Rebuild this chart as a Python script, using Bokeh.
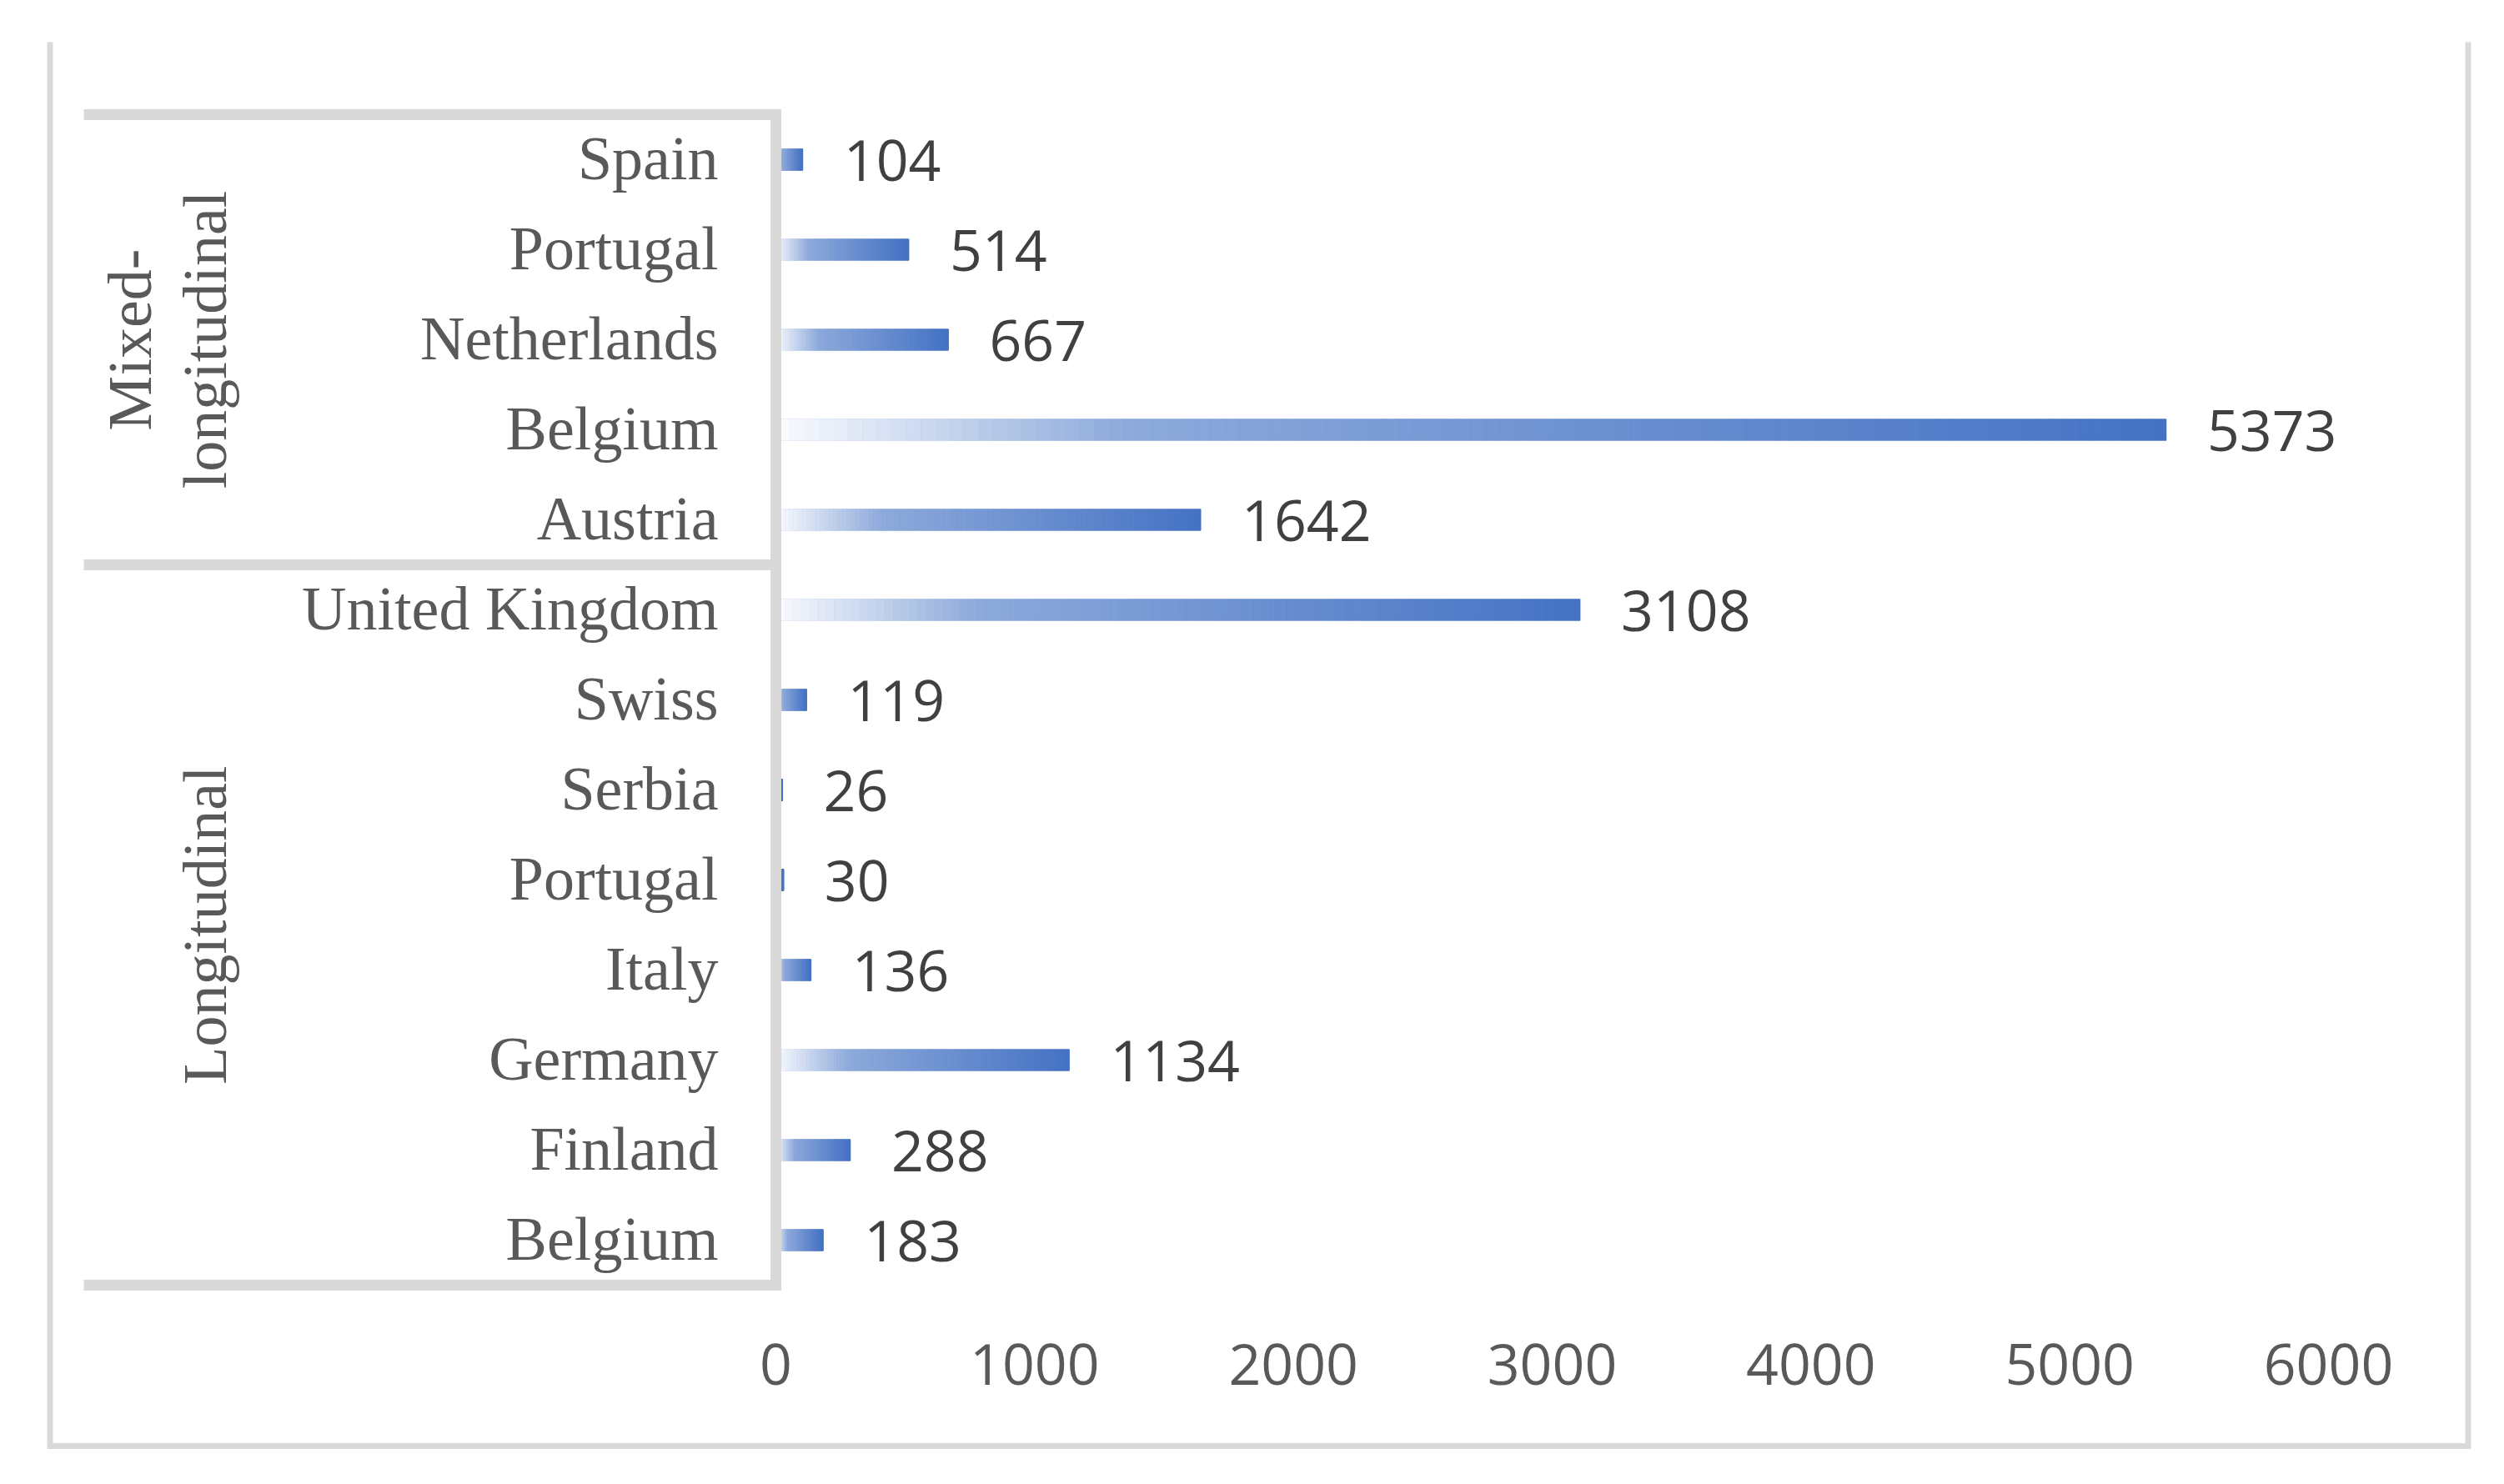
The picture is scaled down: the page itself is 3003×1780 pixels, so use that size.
import math
from bokeh.plotting import figure
from bokeh.models import Range1d, FixedTicker, ColumnDataSource
from bokeh.core.properties import value
from bokeh.embed import file_html
from bokeh.resources import INLINE

# ---------------- data (top to bottom as in the chart) ----------------
countries = ["Spain", "Portugal", "Netherlands", "Belgium", "Austria",
             "United Kingdom", "Swiss", "Serbia", "Portugal", "Italy",
             "Germany", "Finland", "Belgium"]
counts = [104, 514, 667, 5373, 1642, 3108, 119, 26, 30, 136, 1134, 288, 183]
groups = ["Mixed-longitudinal"] * 5 + ["Longitudinal"] * 8
group_names = ["Mixed-longitudinal", "Longitudinal"]
group_label_lines = [["Mixed-", "longitudinal"], ["Longitudinal"]]
x_ticks = [0, 1000, 2000, 3000, 4000, 5000, 6000]

# ---------------- layout / styles ----------------
W, H = 2985, 1762
X0 = 930                      # canvas px of value 0
XPU = (2792 - 930) / 6000.0   # px per unit
ROW0 = 1487                   # canvas px of bottom row centre
ROWPX = 108.0                 # px between rows

def dx(cx):
    return (cx - X0) / XPU

def dy(cy):
    return (ROW0 - cy) / ROWPX

n = len(countries)
rows = [n - 1 - i for i in range(n)]

GREY_LINE = "#d9d9d9"
LABEL_GREY = "#595959"
VALUE_GREY = "#404040"
SERIF = "Liberation Serif"
SANS = "Open Sans"

p = figure(width=W, height=H,
           x_range=Range1d(dx(0), dx(W)), y_range=Range1d(dy(H), dy(0)),
           output_backend="svg", toolbar_location=None,
           y_axis_location=None, min_border=0,
           min_border_left=0, min_border_right=0,
           min_border_top=0, min_border_bottom=0,
           outline_line_color=None,
           background_fill_color="white", border_fill_color="white")
p.grid.grid_line_color = None

# ---------------- gradient bars ----------------
stops = [(0.0, (250, 252, 255)), (0.25, (142, 170, 219)), (1.0, (68, 114, 196))]

def grad(t):
    for (t0, c0), (t1, c1) in zip(stops[:-1], stops[1:]):
        if t <= t1:
            f = (t - t0) / (t1 - t0)
            c = [round(a + (b - a) * f) for a, b in zip(c0, c1)]
            return "#%02x%02x%02x" % tuple(c)
    return "#%02x%02x%02x" % stops[-1][1]

BAR_H = 0.235
p.hbar(y=rows, left=0, right=counts, height=BAR_H,
       fill_color="#4472c4", line_color=None)

NS = 96
sl_y, sl_l, sl_r, sl_c = [], [], [], []
for r, v in zip(rows, counts):
    for k in range(NS):
        sl_y.append(r)
        sl_l.append(v * k / NS)
        sl_r.append(v * (k + 1) / NS)
        sl_c.append(grad((k + 0.5) / NS))
src = ColumnDataSource(dict(y=sl_y, left=sl_l, right=sl_r, color=sl_c))
p.hbar(y="y", left="left", right="right", height=BAR_H, source=src,
       fill_color="color", line_color="color", line_width=0.8)

# ---------------- category box lines ----------------
top_b = max(rows) + 0.5
bot_b = min(rows) - 0.5
sep_b = [r + 0.5 for r, g0, g1 in zip(rows[1:], groups[:-1], groups[1:]) if g0 != g1]
hy = [top_b] + sep_b + [bot_b]
p.segment(x0=[dx(100)] * len(hy), y0=hy, x1=[0] * len(hy), y1=hy,
          line_color=GREY_LINE, line_width=13, line_cap="butt")
p.segment(x0=[0], y0=[top_b], x1=[0], y1=[bot_b],
          line_color=GREY_LINE, line_width=13, line_cap="square")

# outer border (left, bottom, right)
p.line(x=[dx(59.5), dx(59.5), dx(2959.5), dx(2959.5)],
       y=[dy(50), dy(1734), dy(1734), dy(50)],
       line_color=GREY_LINE, line_width=7, line_join="miter")

# ---------------- labels ----------------
p.text(x=[0] * n, y=rows, text=countries, x_offset=-69, y_offset=-2,
       text_align="right", text_baseline="alphabetic",
       text_font=value(SERIF), text_font_size="74px", text_color=LABEL_GREY)

p.text(x=counts, y=rows, text=[str(v) for v in counts], x_offset=49, y_offset=1,
       text_align="left", text_baseline="alphabetic",
       text_font=value(SANS), text_font_size="68px", text_color=VALUE_GREY)

gx, gy, gt = [], [], []
for gname, lines in zip(group_names, group_label_lines):
    grows = [r for r, g in zip(rows, groups) if g == gname]
    cy = sum(grows) / len(grows)
    m = len(lines)
    for j, t in enumerate(lines):
        gx.append(dx(245 - 90 * (m - 1 - j)))
        gy.append(cy)
        gt.append(t)
p.text(x=gx, y=gy, text=gt, angle=math.pi / 2,
       text_align="center", text_baseline="alphabetic",
       text_font=value(SERIF), text_font_size="74px", text_color=LABEL_GREY)

# ---------------- x axis ----------------
ax = p.xaxis[0]
ax.ticker = FixedTicker(ticks=x_ticks)
ax.fixed_location = dy(1611)
ax.axis_line_color = None
ax.major_tick_line_color = None
ax.minor_tick_line_color = None
ax.major_tick_out = 0
ax.major_tick_in = 0
ax.major_label_standoff = 0
ax.major_label_text_font = SANS
ax.major_label_text_font_size = "68px"
ax.major_label_text_color = LABEL_GREY

open("out.html", "w").write(file_html(p, INLINE))
